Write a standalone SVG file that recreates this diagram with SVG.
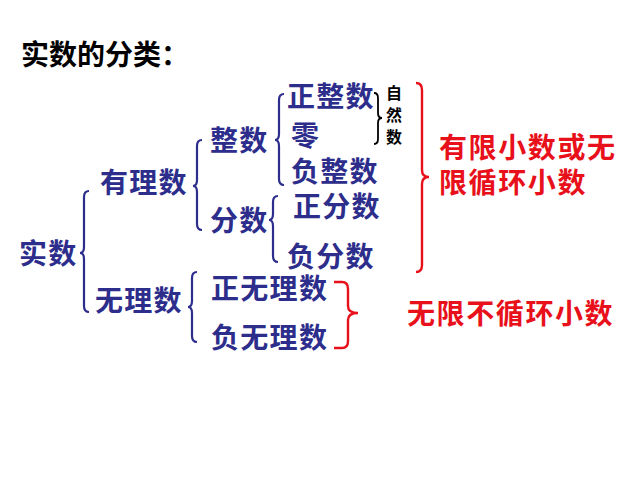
<svg xmlns="http://www.w3.org/2000/svg" width="640" height="480" viewBox="0 0 640 480">
<style>
text{font-family:"Noto Sans CJK SC","Liberation Sans",sans-serif;font-weight:bold;}
.b{fill:#2d2d8c;font-size:28px;letter-spacing:1.3px;}
.r{fill:#e8101a;font-size:28px;letter-spacing:1.6px;}
.k{fill:#000;font-size:28px;}
.s{fill:#000;font-size:16px;}
.bb{fill:none;stroke:#2d2d8c;stroke-width:2.2;}
.rb{fill:none;stroke:#e8101a;stroke-width:2.4;}
.kb{fill:none;stroke:#000;stroke-width:1.8;}
</style>
<rect width="640" height="480" fill="#fff"/>
<g id="title"><text class="k" x="21" y="65">实数的分类：</text></g>
<g id="connectors">
<path class="bb" d="M89,191 Q84,191 84,197 L84,247 Q84,253 80,253 Q84,253 84,259 L84,306 Q84,312 89,312"/>
<path class="bb" d="M202,140 Q197,140 197,146 L197,180 Q197,186 193,186 Q197,186 197,192 L197,224 Q197,230 202,230"/>
<path class="bb" d="M284,94 Q279,94 279,100 L279,134 Q279,140 275,140 Q279,140 279,146 L279,179 Q279,185 284,185"/>
<path class="bb" d="M278,196 Q273,196 273,202 L273,214 Q273,220 269,220 Q273,220 273,226 L273,256 Q273,262 278,262"/>
<path class="bb" d="M197,272 Q192,272 192,278 L192,301 Q192,307 188,307 Q192,307 192,313 L192,336 Q192,342 197,342"/>
<path class="kb" d="M374,93 Q378,93 378,98 L378,113 Q378,118 382,118 Q378,118 378,123 L378,139 Q378,144 374,144"/>
<path class="rb" d="M416,83 Q422,83 422,90 L422,170 Q422,177 429,177 Q422,177 422,184 L422,265 Q422,272 416,272"/>
<path class="rb" d="M334,282 L342,282 Q348,282 348,289 L348,306 Q348,313 358,313 Q348,313 348,320 L348,341 Q348,348 342,348 L334,348"/>
</g>
<g id="n-shishu"><text class="b" x="19" y="264">实数</text></g>
<g id="n-youlishu"><text class="b" x="100" y="193">有理数</text></g>
<g id="n-wulishu"><text class="b" x="95" y="311">无理数</text></g>
<g id="n-zhengshu"><text class="b" x="210" y="151">整数</text></g>
<g id="n-fenshu"><text class="b" x="210" y="231">分数</text></g>
<g id="n-zhengzhengshu"><text class="b" x="287" y="107">正整数</text></g>
<g id="n-ling"><text class="b" x="291" y="146">零</text></g>
<g id="n-fuzhengshu"><text class="b" x="291" y="182">负整数</text></g>
<g id="n-zhengfenshu"><text class="b" x="293" y="217">正分数</text></g>
<g id="n-fufenshu"><text class="b" x="287" y="267">负分数</text></g>
<g id="n-zhengwulishu"><text class="b" x="211" y="299">正无理数</text></g>
<g id="n-fuwulishu"><text class="b" x="211" y="348">负无理数</text></g>
<g id="n-ziranshu">
<text class="s" x="386" y="99">自</text>
<text class="s" x="386" y="121">然</text>
<text class="s" x="386" y="143">数</text>
</g>
<g id="n-youxian">
<text class="r" x="439" y="158">有限小数或无</text>
<text class="r" x="439" y="193">限循环小数</text>
</g>
<g id="n-wuxian"><text class="r" x="407" y="324">无限不循环小数</text></g>
</svg>
